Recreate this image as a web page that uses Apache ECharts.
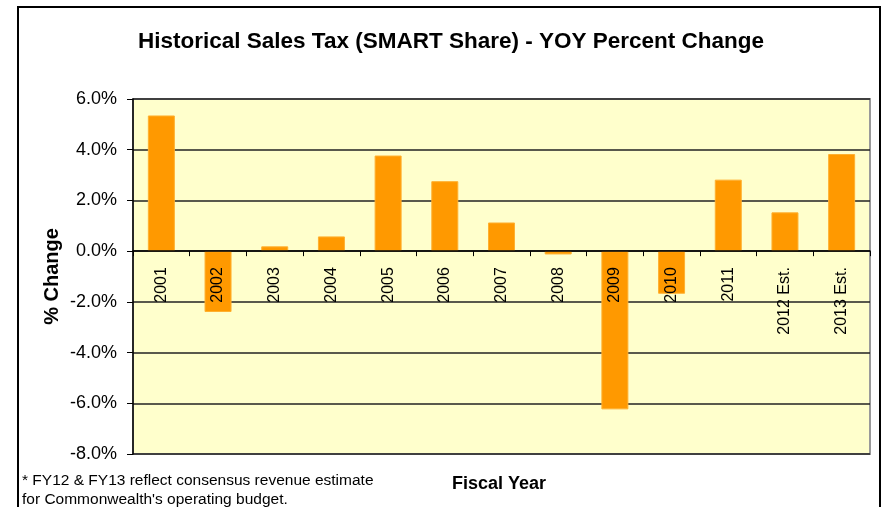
<!DOCTYPE html>
<html>
<head>
<meta charset="utf-8">
<script src="https://cdn.jsdelivr.net/npm/echarts@6/dist/echarts.min.js"></script>
<style>
html,body{margin:0;padding:0;background:#fff;}
#chart{width:885px;height:507px;}
</style>
</head>
<body>
<div id="chart"></div>
<script>
var categories = ['2001','2002','2003','2004','2005','2006','2007','2008','2009','2010','2011','2012 Est.','2013 Est.'];
var values = [5.35, -2.40, 0.19, 0.58, 3.77, 2.76, 1.13, -0.13, -6.24, -1.68, 2.82, 1.53, 3.83];
var yMin = -8, yMax = 6, yStep = 2;
var titleText = 'Historical Sales Tax (SMART Share) - YOY Percent Change';
var yAxisTitle = '% Change';
var xAxisTitle = 'Fiscal Year';
var footnote = ["* FY12 & FY13 reflect consensus revenue estimate", "for Commonwealth's operating budget."];

var FONT = '"Liberation Sans", Arial, sans-serif';
var gridTop = 99, gridBottom = 53, H = 507;
var plotH = H - gridTop - gridBottom;
// shift the category axis (line, ticks and labels) up to the zero value
var zeroOffset = -plotH * (0 - yMin) / (yMax - yMin);

var chart = echarts.init(document.getElementById('chart'), null, {renderer: 'canvas'});
chart.setOption({
  animation: false,
  backgroundColor: '#ffffff',
  textStyle: {fontFamily: FONT},
  title: {
    text: titleText,
    left: 133,
    top: 25,
    textStyle: {fontFamily: FONT, fontSize: 22.5, fontWeight: 'bold', color: '#000'}
  },
  grid: {
    left: 133, right: 15, top: gridTop, bottom: gridBottom,
    outerBoundsMode: 'none', containLabel: false,
    show: true, backgroundColor: '#FFFFCC', borderColor: '#9a9a9a', borderWidth: 2
  },
  xAxis: {
    type: 'category',
    data: categories,
    position: 'bottom',
    offset: zeroOffset,
    z: 10,
    axisLine: {onZero: false, lineStyle: {color: '#000', width: 1.5}},
    axisTick: {show: true, inside: false, length: 5, alignWithLabel: false, lineStyle: {color: '#000'}},
    axisLabel: {rotate: 90, margin: 16, fontSize: 16, color: '#000', fontFamily: FONT, interval: 0, hideOverlap: false},
    splitLine: {show: false}
  },
  yAxis: {
    type: 'value',
    min: yMin, max: yMax, interval: yStep,
    name: yAxisTitle,
    nameLocation: 'middle',
    nameRotate: 90,
    nameGap: 71,
    nameMoveOverlap: false,
    nameTextStyle: {fontFamily: FONT, fontSize: 20, fontWeight: 'bold', color: '#000'},
    axisLine: {show: true, lineStyle: {color: '#000', width: 1.5}},
    axisTick: {show: true, length: 6, lineStyle: {color: '#000'}},
    axisLabel: {formatter: function(v){return v.toFixed(1) + '%';}, fontSize: 18, color: '#000', margin: 16, fontFamily: FONT},
    splitLine: {show: true, lineStyle: {color: '#222', width: 1.5}}
  },
  series: [{
    type: 'bar',
    data: values,
    barWidth: 27,
    z: 2,
    itemStyle: {color: '#FF9900', borderColor: '#FFB030', borderWidth: 1}
  }],
  graphic: [
    {type: 'rect', shape: {x: 18, y: 7, width: 862, height: 520}, style: {fill: 'none', stroke: '#000', lineWidth: 2}, silent: true},
    {type: 'text', left: 452, top: 475, style: {text: xAxisTitle, fontFamily: FONT, fontSize: 18, fontWeight: 'bold', fill: '#000'}},
    {type: 'text', left: 22, top: 471, style: {text: footnote.join('\n'), fontFamily: FONT, fontSize: 15.5, lineHeight: 19, fill: '#000'}}
  ]
});
</script>
</body>
</html>
